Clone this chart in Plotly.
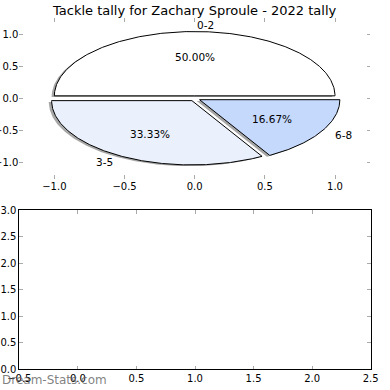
import math
import plotly.graph_objects as go

# ---- data ----
labels = ["0-2", "3-5", "6-8"]
values = [3, 2, 1]
colors = ["#ffffff", "#eaf1fd", "#c5d9fc"]
title = "Tackle tally for Zachary Sproule - 2022 tally"
watermark = "Dream-Stats.com"

EXPLODE = 0.04
LABEL_DIST = 1.1
PCT_DIST = 0.6
SH_DX, SH_DY = -0.02, -0.02
FONT = "DejaVu Sans"

total = float(sum(values))
fig = go.Figure()

wedges = []
theta = 0.0
for lab, v, c in zip(labels, values, colors):
    span = 360.0 * v / total
    t1, t2 = theta, theta + span
    mid = math.radians((t1 + t2) / 2)
    cx, cy = EXPLODE * math.cos(mid), EXPLODE * math.sin(mid)
    n = max(int(span * 2), 8)
    xs = [cx] + [cx + math.cos(math.radians(t1 + (t2 - t1) * k / n)) for k in range(n + 1)] + [cx]
    ys = [cy] + [cy + math.sin(math.radians(t1 + (t2 - t1) * k / n)) for k in range(n + 1)] + [cy]
    wedges.append((lab, v, c, xs, ys, cx, cy, mid))
    theta = t2

# shadows
for lab, v, c, xs, ys, cx, cy, mid in wedges:
    fig.add_trace(go.Scatter(x=[x + SH_DX for x in xs], y=[y + SH_DY for y in ys],
                             fill="toself", mode="lines", line=dict(width=0, color="rgba(0,0,0,0)"),
                             fillcolor="rgba(77,77,77,0.5)", hoverinfo="skip", showlegend=False,
                             xaxis="x", yaxis="y"))
# wedges
for lab, v, c, xs, ys, cx, cy, mid in wedges:
    fig.add_trace(go.Scatter(x=xs, y=ys, fill="toself", mode="lines",
                             line=dict(width=1, color="black"), fillcolor=c,
                             hoverinfo="skip", showlegend=False, xaxis="x", yaxis="y"))

annotations = []
for lab, v, c, xs, ys, cx, cy, mid in wedges:
    xt = cx + LABEL_DIST * math.cos(mid)
    yt = cy + LABEL_DIST * math.sin(mid)
    annotations.append(dict(x=xt, y=yt, xref="x", yref="y", text=lab, showarrow=False,
                            xanchor="left" if xt > 0 else "right", yanchor="middle",
                            font=dict(family=FONT, size=10.5, color="black")))
    xp = cx + PCT_DIST * math.cos(mid)
    yp = cy + PCT_DIST * math.sin(mid)
    annotations.append(dict(x=xp, y=yp, xref="x", yref="y", text=f"{v / total * 100:.2f}%",
                            showarrow=False, xanchor="center", yanchor="middle",
                            font=dict(family=FONT, size=10.5, color="black")))

annotations.append(dict(x=194.7 / 390, y=1 - 10 / 390, xref="paper", yref="paper", text=title,
                        showarrow=False, xanchor="center", yanchor="middle",
                        font=dict(family=FONT, size=13, color="black")))
annotations.append(dict(x=0, y=1 - 380 / 390, xref="paper", yref="paper", text=watermark,
                        showarrow=False, xanchor="left", yanchor="middle",
                        font=dict(family=FONT, size=12, color="rgba(95,95,95,0.8)")))

tick_common = dict(ticks="inside", ticklen=3.5, tickwidth=1, tickcolor="#aaaaaa",
                   showgrid=False, zeroline=False, tickformat=".1f",
                   tickfont=dict(family=FONT, size=10, color="black"), automargin=False)

fig.update_layout(
    width=390, height=390, margin=dict(l=0, r=0, t=0, b=0),
    paper_bgcolor="white", plot_bgcolor="white",
    xaxis=dict(domain=[19.3 / 390, 370.1 / 390], range=[-1.25, 1.25], anchor="y",
               tickvals=[-1.0, -0.5, 0.0, 0.5, 1.0], showline=False, mirror="ticks",
               fixedrange=True, **tick_common),
    yaxis=dict(domain=[1 - 178.8 / 390, 1 - 18 / 390], range=[-1.25, 1.25], anchor="x",
               tickvals=[-1.0, -0.5, 0.0, 0.5, 1.0], showline=False, mirror="ticks",
               fixedrange=True, **tick_common),
    xaxis2=dict(domain=[19.3 / 390, 370.7 / 390], range=[-0.5, 2.5], anchor="y2",
                tickvals=[-0.5, 0.0, 0.5, 1.0, 1.5, 2.0, 2.5], showline=True, linecolor="black",
                linewidth=1, mirror="ticks", **tick_common),
    yaxis2=dict(domain=[1 - 369 / 390, 1 - 210 / 390], range=[0, 3], anchor="x2",
                tickvals=[0.0, 0.5, 1.0, 1.5, 2.0, 2.5, 3.0], showline=True, linecolor="black",
                linewidth=1, mirror="ticks", **tick_common),
    annotations=annotations,
)
# invisible trace to keep the second axes drawn
fig.add_trace(go.Scatter(x=[None], y=[None], xaxis="x2", yaxis="y2", showlegend=False, hoverinfo="skip"))

fig.write_html("out.html", config={"displayModeBar": False, "staticPlot": True},
               post_script="document.body.style.margin='0px';document.body.style.overflow='hidden';")
